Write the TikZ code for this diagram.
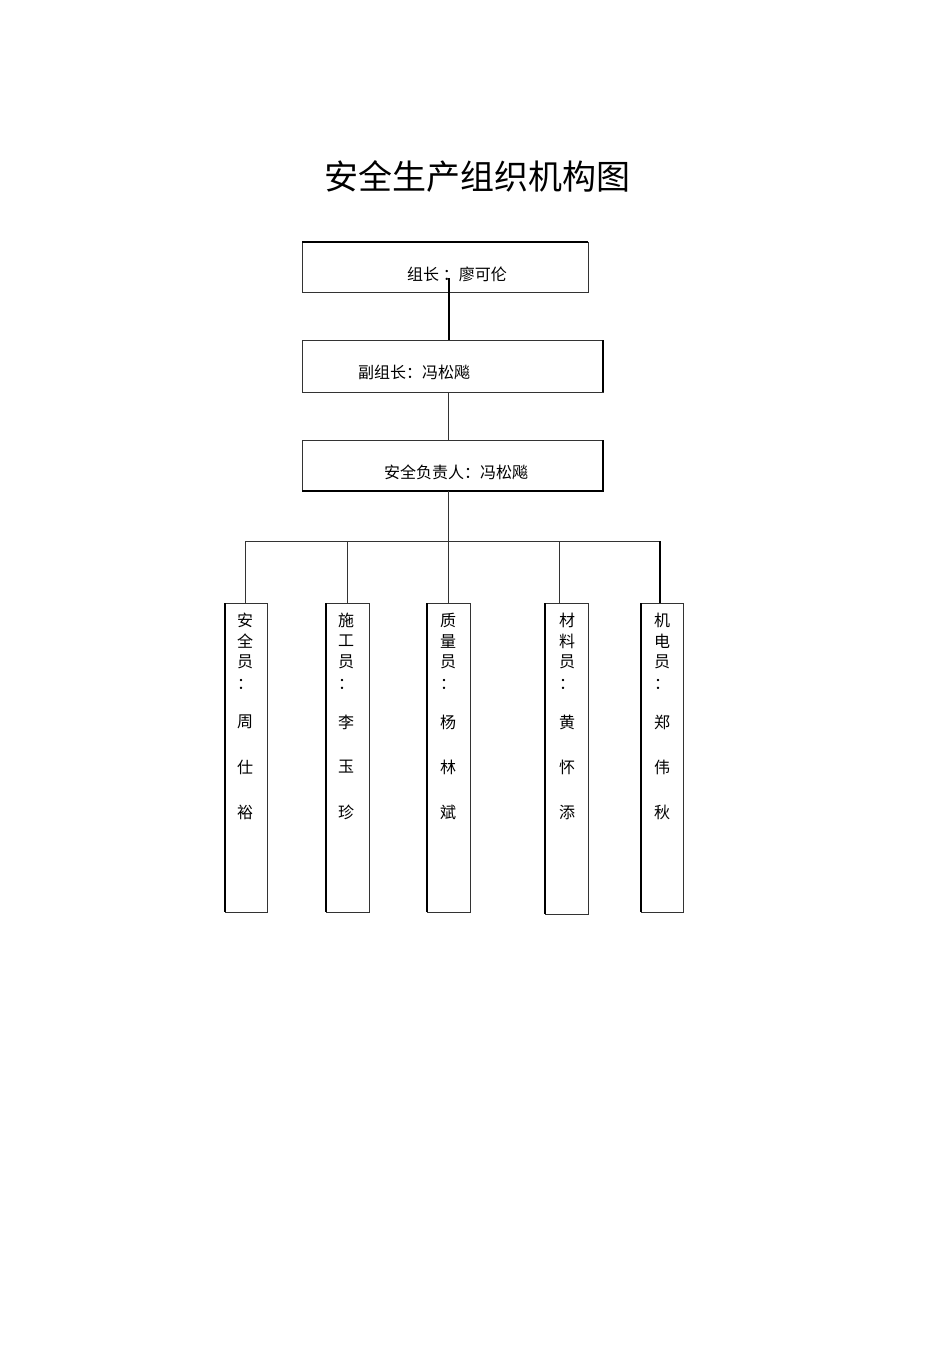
\documentclass[tikz,border=0pt]{standalone}
\usepackage{fontspec}
\newfontfamily\cjk{Noto Sans CJK SC}
\begin{document}
\begin{tikzpicture}[x=1pt,y=-1pt,
  t/.style={font=\cjk\fontsize{16}{18}\selectfont,inner sep=0},
  ln/.style={draw=black!80,line width=0.8pt}]
\useasboundingbox (0,0) rectangle (950,1345);
\node[font=\cjk\fontsize{34}{40}\selectfont] (title) at (477,177) {安全生产组织机构图};
% boxes
\draw[ln] (302,242) rectangle (588,292); \draw[line width=2pt] (302,242)--(588,242);
\draw[ln] (302,340) rectangle (603,392); \draw[line width=2pt] (603,340)--(603,392);
\draw[ln] (302,440) rectangle (603,491); \draw[line width=2pt] (302,491)--(603,491)--(603,440);
\node[t] (b1) at (457,274) {组长 ：廖可伦};
\node[t] (b2) at (414,372) {副组长：冯松飚};
\node[t] (b3) at (456,472) {安全负责人：冯松飚};
\coordinate (a1) at (449,278); \coordinate (a2) at (449,340);
\draw[line width=1.8pt] (a1)--(a2);
\draw[ln] (448,392)--(448,440);
\draw[ln] (448,491)--(448,603);
\draw[ln] (245,541)--(660,541);
\draw[ln] (245,541)--(245,603);
\draw[ln] (347,541)--(347,603);
\draw[ln] (559,541)--(559,603);
\draw[line width=1.8pt] (660,541)--(660,603);
% vertical boxes
\foreach \xa/\xb/\yb/\tx/\nm in {225/267/912/245/{周,仕,裕},326/369/912/346/{李,玉,珍},427/470/912/448/{杨,林,斌},545/588/914/567/{黄,怀,添},641/683/912/662/{郑,伟,秋}}{
  \draw[ln] (\xa,603) rectangle (\xb,\yb);
  \draw[line width=1.8pt] (\xa,603)--(\xa,\yb);
}
\def\col#1#2#3#4#5#6#7#8{%
 \node[t] at (#1,620) {#2}; \node[t] at (#1,641) {#3}; \node[t] at (#1,662) {员};
 \node[t] at (#1,684) {：};
 \node[t] at (#1,#8) {#4}; \node[t] at (#1,\the\numexpr #8+45\relax) {#5}; \node[t] at (#1,\the\numexpr #8+90\relax) {#6};}
\col{245}{安}{全}{周}{仕}{裕}{}{722}
\col{346}{施}{工}{李}{玉}{珍}{}{722}
\col{448}{质}{量}{杨}{林}{斌}{}{722}
\col{567}{材}{料}{黄}{怀}{添}{}{722}
\col{662}{机}{电}{郑}{伟}{秋}{}{722}
\end{tikzpicture}
\end{document}
